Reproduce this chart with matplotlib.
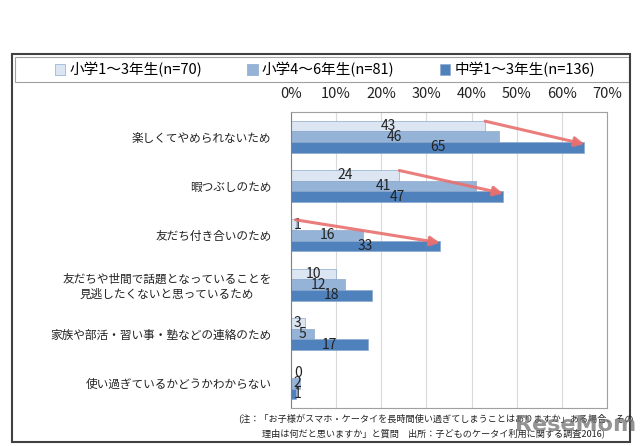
import numpy as np
import matplotlib.pyplot as plt
from matplotlib.patches import Rectangle, Patch

plt.rcParams['font.family'] = ['Noto Sans CJK JP', 'DejaVu Sans']

categories = ['楽しくてやめられないため', '暇つぶしのため', '友だち付き合いのため',
              '友だちや世間で話題となっていることを\n見逃したくないと思っているため',
              '家族や部活・習い事・塾などの連絡のため', '使い過ぎているかどうかわからない']
series_names = ['小学1～3年生(n=70)', '小学4～6年生(n=81)', '中学1～3年生(n=136)']
elem_low = [43, 24, 1, 10, 3, 0]
elem_high = [46, 41, 16, 12, 5, 2]
junior = [65, 47, 33, 18, 17, 1]
arrow_rows = [0, 1, 2]
colors = ['#dce6f2', '#95b3d7', '#4f81bd']

fig = plt.figure(figsize=(6.4, 4.46), dpi=100)
ax = fig.add_axes([291/640, 1-408/446, 316/640, 296/446])

y = np.arange(len(categories))
h = 0.217
data = [elem_low, elem_high, junior]
for k, vals in enumerate(data):
    pos = y + (k - 1) * h
    ax.barh(pos, vals, height=h, color=colors[k], edgecolor='#8ea9cc', linewidth=0.5, zorder=2)
    for p, v in zip(pos, vals):
        ax.text(max(v / 2, 1.5), p, str(v), ha='center', va='center', fontsize=10,
                color='#222222', zorder=4)

# red arrows: growth from elementary 1-3 to junior high
for i in arrow_rows:
    ax.annotate('', xy=(junior[i], i + h - 0.3 * h), xytext=(elem_low[i], i - h - 0.45 * h),
                arrowprops=dict(arrowstyle='-|>', color='#e8706f', lw=2.2, alpha=0.9,
                                mutation_scale=14, shrinkA=0, shrinkB=0), zorder=5)

ax.set_xlim(0, 70)
ax.set_ylim(len(categories) - 0.5, -0.5)
ax.set_xticks(np.arange(0, 71, 10))
ax.set_xticklabels([f'{t}%' for t in range(0, 71, 10)], fontsize=10.5, color='#222222')
ax.xaxis.tick_top()
ax.tick_params(axis='x', length=0, pad=8)
ax.set_yticks(y)
ax.set_yticklabels(categories, fontsize=8.4, color='#222222', multialignment='center')
ax.tick_params(axis='y', length=0, pad=14)
ax.grid(axis='x', color='#d9d9d9', linewidth=0.8, zorder=0)
for s in ax.spines.values():
    s.set_color('#a0a0a0')
ax.spines['left'].set_color('#808080')

# legend box + entries
fig.patches.append(Rectangle((15/640, 1-82/446), 614/640, 25/446, transform=fig.transFigure,
                             fill=False, edgecolor='#a0a0a0', linewidth=0.8))
handles = [Patch(facecolor=c, edgecolor='#8ea9cc', linewidth=0.5) for c in colors]
leg = fig.legend(handles, series_names, loc='center', ncol=3, frameon=False,
                 bbox_to_anchor=(325/640, 1-70/446), fontsize=10.5,
                 handlelength=0.7, handleheight=0.7, handletextpad=0.3, columnspacing=3.1)

fig.patches.append(Rectangle((12/640, 1-442/446), 618/640, 388/446, transform=fig.transFigure,
                             fill=False, edgecolor='#404040', linewidth=1.5))

fig.text(238/640, 1-418/446, '(注：「お子様がスマホ・ケータイを長時間使い過ぎてしまうことはありますか」ある場合、その',
         fontsize=6.6, va='center', color='#222222')
fig.text(262/640, 1-433/446, '理由は何だと思いますか」と質問　出所：子どものケータイ利用に関する調査2016)',
         fontsize=6.6, va='center', color='#222222')
fig.text(576/640, 1-425/446, 'ReseMom', fontsize=16, fontweight='bold', ha='center', va='center',
         color='#707070', alpha=0.75, family='DejaVu Sans')

fig.savefig('out.png', dpi=100)
